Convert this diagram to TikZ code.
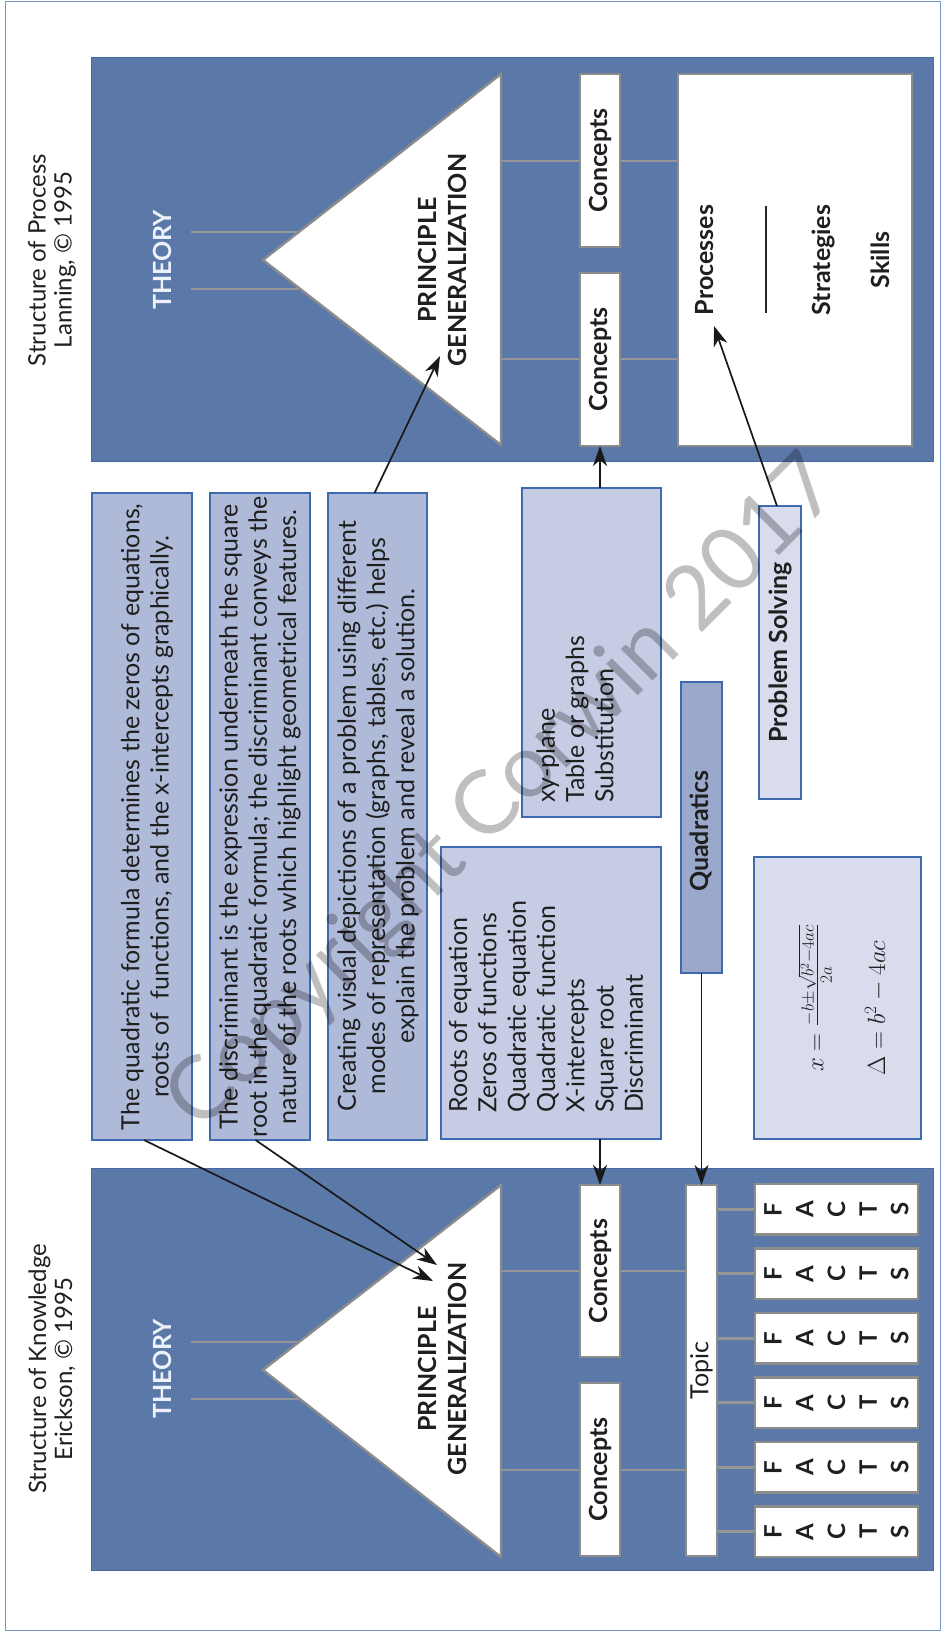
\documentclass[tikz,border=0pt]{standalone}
\usepackage{fontspec}
\setmainfont{Lato}
\usetikzlibrary{arrows.meta,calc}
\definecolor{panel}{RGB}{90,120,168}
\definecolor{panelline}{RGB}{70,105,165}
\definecolor{tbox}{RGB}{175,185,216}
\definecolor{rbox}{RGB}{197,204,227}
\definecolor{qbox}{RGB}{154,168,204}
\definecolor{lbox}{RGB}{216,220,236}
\definecolor{bborder}{RGB}{62,106,176}
\definecolor{gline}{RGB}{150,150,150}
\definecolor{wborder}{RGB}{140,140,140}
\definecolor{theorycol}{RGB}{236,241,250}
\newcommand\fBody{\fontsize{25}{29.3}\selectfont}
\newcommand\fTitle{\fontsize{24}{26}\selectfont}
\newcommand\fBold{\fontsize{25}{30}\selectfont\bfseries}
\newcommand\fFacts{\fontsize{24}{31.7}\selectfont\bfseries}
\begin{document}
\begin{tikzpicture}[x=1pt,y=-1pt,
  panelbox/.style={fill=panel,draw=panelline,line width=0.8pt,inner sep=0pt,outer sep=0pt,anchor=north west},
  txtbox/.style={fill=tbox,draw=bborder,line width=1.2pt,inner sep=0pt,outer sep=0pt,anchor=north west},
  wbox/.style={fill=white,draw=wborder,line width=2.6pt,inner sep=0pt,outer sep=0pt,anchor=north west},
  glink/.style={draw=gline,line width=2.8pt},
  tri/.style={fill=white,draw=wborder,line width=2.4pt,line join=miter},
  arr/.style={draw=black!90,line width=1.7pt,-{Stealth[length=20pt,width=14pt,inset=6pt]}},
  vtxt/.style={rotate=90,inner sep=0pt,align=center,text=black!88},
]
\path[use as bounding box] (0,0) rectangle (941,1631);
\draw[draw=bborder!70,line width=1pt] (5,1) rectangle (940,1630);

% ---------- titles ----------
\node[vtxt,font=\fTitle] (tproc) at (52,260) {Structure of Process\\Lanning, © 1995};
\node[vtxt,font=\fTitle] (tknow) at (52,1369) {Structure of Knowledge\\Erickson, © 1995};

% ---------- process panel ----------
\node[panelbox,minimum width=841.5pt,minimum height=404pt] (pp) at (91.5,57) {};
\draw[glink] (191,232) -- (320,232);
\draw[glink] (191,289) -- (320,289);
\draw[tri] (263,260) -- (501,74) -- (501,445) -- cycle;
\draw[glink] (501,161) -- (678,161);
\draw[glink] (501,359) -- (678,359);
\node[wbox,minimum width=40pt,minimum height=173pt] (pc1) at (580,74) {};
\node[wbox,minimum width=40pt,minimum height=173pt] (pc2) at (580,273) {};
\node[wbox,minimum width=234pt,minimum height=372pt] (pbig) at (678,74) {};
\node[vtxt,font=\fBold,text=theorycol] (pth) at (162,260) {THEORY};
\node[vtxt,font=\fBold] (ppg) at (442,260) {PRINCIPLE\\GENERALIZATION};
\node[vtxt,font=\fBold] (pc1t) at (pc1.center) {Concepts};
\node[vtxt,font=\fBold] (pc2t) at (pc2.center) {Concepts};
\node[vtxt,font=\fBold] (proc) at (705,260) {Processes};
\draw[line width=2pt,black!85] (766,206) -- (766,313);
\node[vtxt,font=\fBold] (strat) at (823,260) {Strategies};
\node[vtxt,font=\fBold] (skill) at (880.5,260) {Skills};

% ---------- knowledge panel ----------
\node[panelbox,minimum width=841.5pt,minimum height=402pt] (kp) at (91.5,1168) {};
\draw[glink] (191,1342) -- (320,1342);
\draw[glink] (191,1399) -- (320,1399);
\draw[tri] (263,1370) -- (501,1185) -- (501,1557) -- cycle;
\draw[glink] (501,1271) -- (686,1271);
\draw[glink] (501,1470) -- (686,1470);
\foreach \yy/\nm in {1184/f1,1248.5/f2,1313/f3,1377.5/f4,1442/f5,1506.5/f6}{
  \draw[glink] (715,\yy+25.25) -- (756,\yy+25.25);
  \node[wbox,minimum width=163pt,minimum height=50.5pt] (\nm) at (755,\yy) {};
  \node[vtxt,font=\fFacts] (\nm t) at (\nm.center) {F\\A\\C\\T\\S};
}
\node[wbox,minimum width=40pt,minimum height=172pt] (kc1) at (580,1185) {};
\node[wbox,minimum width=40pt,minimum height=173pt] (kc2) at (580,1383) {};
\node[wbox,minimum width=31pt,minimum height=371pt] (topic) at (686,1185) {};
\node[vtxt,font=\fBold,text=theorycol] (kth) at (162,1369) {THEORY};
\node[vtxt,font=\fBold] (kpg) at (442,1369) {PRINCIPLE\\GENERALIZATION};
\node[vtxt,font=\fBold] (kc1t) at (kc1.center) {Concepts};
\node[vtxt,font=\fBold] (kc2t) at (kc2.center) {Concepts};
\node[vtxt,font=\fBody] (topict) at (topic.center) {Topic};

% ---------- middle boxes ----------
\node[txtbox,minimum width=100pt,minimum height=647pt] (t1) at (92,493) {};
\node[txtbox,minimum width=100pt,minimum height=647pt] (t2) at (210,493) {};
\node[txtbox,minimum width=99pt,minimum height=647pt] (t3) at (328,493) {};
\node[txtbox,fill=rbox,minimum width=220pt,minimum height=292pt] (rb) at (441,847) {};
\node[txtbox,fill=rbox,minimum width=139pt,minimum height=329pt] (xb) at (522,488) {};
\node[txtbox,fill=qbox,minimum width=41pt,minimum height=291pt] (qb) at (681,682) {};
\node[txtbox,fill=lbox,minimum width=42pt,minimum height=293pt] (ps) at (759,506) {};
\node[txtbox,fill=lbox,minimum width=167pt,minimum height=282pt] (fb) at (754,857) {};

\node[vtxt,font=\fBody] (t1t) at (147,817) {The quadratic formula determines the zeros of equations,\\roots of\ \ functions, and the x-intercepts graphically.};
\node[vtxt,font=\fBody] (t2t) at (260,817) {The discriminant is the expression underneath the square\\root in the quadratic formula; the discriminant conveys the\\nature of the roots which highlight geometrical features.};
\node[vtxt,font=\fBody] (t3t) at (378,816) {Creating visual depictions of a problem using different\\modes of representation (graphs, tables, etc.) helps\\explain the problem and reveal a solution.};
\node[vtxt,font=\fBody,align=left,anchor=west] (rbt) at (546,1113) {Roots of equation\\Zeros of functions\\Quadratic equation\\Quadratic function\\X-intercepts\\Square root\\Discriminant};
\node[vtxt,font=\fBody,align=left,anchor=west] (xbt) at (575,803) {xy-plane\\Table or graphs\\Substitution};
\node[vtxt,font=\fBold] (qbt) at (701,831) {Quadratics};
\node[vtxt,font=\fBold] (pst) at (ps.center) {Problem Solving};
\node[vtxt,font=\fontsize{26}{28}\selectfont] (fm1) at (815,998) {$x=\frac{-b\pm\sqrt{b^2-4ac}}{2a}$};
\node[vtxt,font=\fontsize{24}{26}\selectfont] (fm2) at (876,1008) {$\Delta=b^2-4ac$};

% ---------- arrows ----------
\coordinate (a1) at (433,1281);
\coordinate (a2) at (437,1265);
\coordinate (a3) at (440,356);
\coordinate (a5) at (714,326);
\draw[arr] ([xshift=2pt]t1.south) -- (a1);
\draw[arr] ([xshift=-4.5pt]t2.south) -- (a2);
\draw[arr] ([xshift=-3pt]t3.north) -- (a3);
\draw[arr] (pc2.south |- xb.north) -- (pc2.south);
\draw[arr] ([xshift=-3pt]ps.north) -- (a5);
\draw[arr] (kc1.north |- rb.south) -- (kc1.north);
\draw[arr] (qb.south) -- (topic.north);

% ---------- watermark ----------
\node[rotate=45,inner sep=0pt,font=\fontsize{88}{88}\selectfont,text=black,opacity=0.25] (wm) at (505,795) {Copyright Corwin 2017};
\end{tikzpicture}
\end{document}
